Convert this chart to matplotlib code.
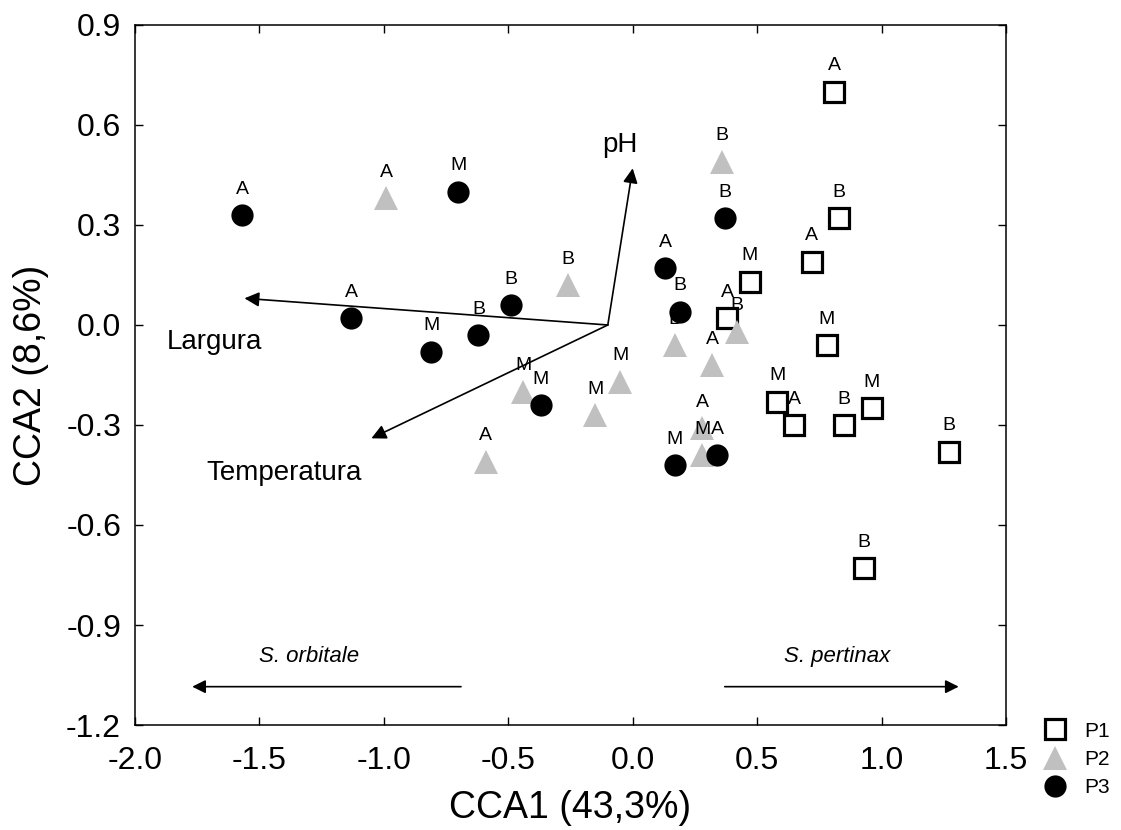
import matplotlib
matplotlib.use('Agg')
import matplotlib.pyplot as plt
import numpy as np

plt.rcParams['font.family'] = ['Liberation Sans', 'DejaVu Sans']
plt.rcParams['axes.unicode_minus'] = False

# P1 (squares)
x_p1 = [0.81, 0.83, 0.72, 0.47, 0.38, 0.78, 0.58, 0.65, 0.85, 0.96, 1.27, 0.93]
y_p1 = [0.70, 0.32, 0.19, 0.13, 0.02, -0.06, -0.23, -0.30, -0.30, -0.25, -0.38, -0.73]
lab_p1 = ['A', 'B', 'A', 'M', 'A', 'M', 'M', 'A', 'B', 'M', 'B', 'B']

# P2 (triangles)
x_p2 = [-0.99, -0.26, -0.44, -0.15, -0.59, -0.05, 0.17, 0.32, 0.42, 0.28, 0.28, 0.36]
y_p2 = [0.38, 0.12, -0.20, -0.27, -0.41, -0.17, -0.06, -0.12, -0.02, -0.31, -0.39, 0.49]
lab_p2 = ['A', 'B', 'M', 'M', 'A', 'M', 'B', 'A', 'B', 'A', 'M', 'B']

# P3 (circles)
x_p3 = [-1.57, -0.70, -1.13, -0.81, -0.62, -0.49, -0.37, 0.13, 0.19, 0.37, 0.17, 0.34]
y_p3 = [0.33, 0.40, 0.02, -0.08, -0.03, 0.06, -0.24, 0.17, 0.04, 0.32, -0.42, -0.39]
lab_p3 = ['A', 'M', 'A', 'M', 'B', 'B', 'M', 'A', 'B', 'B', 'M', 'A']

# environmental vectors
env_origin = (-0.10, 0.0)
env_names = ['pH', 'Largura', 'Temperatura']
env_x = [0.0, -1.56, -1.05]
env_y = [0.47, 0.08, -0.34]
env_lab_x = [-0.05, -1.68, -1.40]
env_lab_y = [0.54, -0.05, -0.445]

# species direction arrows
sp_names = ['S. orbitale', 'S. pertinax']
sp_start = [-0.69, 0.37]
sp_end = [-1.77, 1.31]
sp_y = -1.085
sp_lab_x = [-1.30, 0.82]
sp_lab_y = -0.995

fig = plt.figure(figsize=(11.21, 8.30), dpi=100)
ax = fig.add_axes([0.1204, 0.1265, 0.777, 0.8434])

groups = [
    (x_p1, y_p1, lab_p1, dict(marker='s', ms=14, mfc='white', mec='black', mew=2.3), 'P1'),
    (x_p2, y_p2, lab_p2, dict(marker='^', ms=17, mfc='#c0c0c0', mec='#c0c0c0', mew=0), 'P2'),
    (x_p3, y_p3, lab_p3, dict(marker='o', ms=16, mfc='black', mec='black', mew=0), 'P3'),
]
handles = []
for xs, ys, labs, style, name in groups:
    h, = ax.plot(xs, ys, ls='none', label=name, **style)
    handles.append(h)
    for x, y, t in zip(xs, ys, labs):
        ax.annotate(t, (x, y), xytext=(0, 18.5), textcoords='offset points',
                    ha='center', va='center', fontsize=14)

# env arrows
for name, ex, ey, lx, ly in zip(env_names, env_x, env_y, env_lab_x, env_lab_y):
    ax.annotate('', xy=(ex, ey), xytext=env_origin,
                arrowprops=dict(arrowstyle='-|>', color='black', lw=1.2,
                                mutation_scale=22, shrinkA=0, shrinkB=0))
    ax.text(lx, ly, name, fontsize=20, ha='center', va='center')

# species arrows
for name, s, e, lx in zip(sp_names, sp_start, sp_end, sp_lab_x):
    ax.annotate('', xy=(e, sp_y), xytext=(s, sp_y),
                arrowprops=dict(arrowstyle='-|>', color='black', lw=1.2,
                                mutation_scale=20, shrinkA=0, shrinkB=0))
    ax.text(lx, sp_lab_y, name, fontsize=16, style='italic', ha='center', va='center')

ax.set_xlim(-2.0, 1.5)
ax.set_ylim(-1.2, 0.9)
ax.set_xticks(np.arange(-2.0, 1.51, 0.5))
ax.set_yticks(np.arange(-1.2, 0.91, 0.3))
ax.xaxis.set_major_formatter(matplotlib.ticker.FormatStrFormatter('%.1f'))
ax.yaxis.set_major_formatter(matplotlib.ticker.FormatStrFormatter('%.1f'))
ax.tick_params(direction='in', length=6, width=1, labelsize=23, top=True, right=True)
ax.tick_params(axis='x', pad=15)
ax.tick_params(axis='y', pad=10)
for sp in ax.spines.values():
    sp.set_linewidth(1.1)

ax.set_xlabel('CCA1 (43,3%)', fontsize=27, labelpad=10)
ax.set_ylabel('CCA2 (8,6%)', fontsize=27, labelpad=12)

fig.legend(handles=handles, loc='center', bbox_to_anchor=(0.96, 0.085),
           frameon=False, fontsize=15, handletextpad=0.8, labelspacing=0.45,
           borderaxespad=0, handlelength=1.2)

fig.savefig('out.png', dpi=100)
